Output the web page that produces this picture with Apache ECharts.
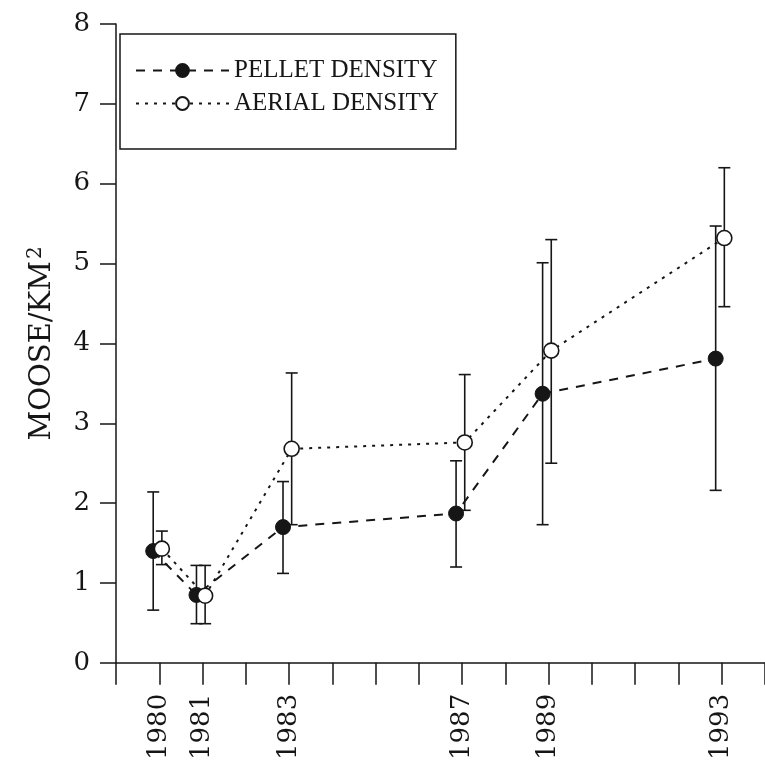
<!DOCTYPE html>
<html>
<head>
<meta charset="utf-8">
<script src="https://cdn.jsdelivr.net/npm/echarts@6/dist/echarts.min.js"></script>
<style>
  html, body { margin: 0; padding: 0; background: #fff; }
  #chart { width: 765px; height: 763px; }
</style>
</head>
<body>
<div id="chart"></div>
<script>
// 年份（x 轴标签）
var years = [1980, 1981, 1983, 1987, 1989, 1993];

// 粪便计数估计
var pellet     = [1.40, 0.85, 1.70, 1.87, 3.37, 3.81];
var pelletLow  = [0.66, 0.49, 1.12, 1.20, 1.73, 2.16];
var pelletHigh = [2.14, 1.22, 2.27, 2.53, 5.01, 5.47];

// 航空调查估计
var aerial     = [1.43, 0.84, 2.68, 2.76, 3.91, 5.32];
var aerialLow  = [1.23, 0.49, 1.73, 1.91, 2.50, 4.46];
var aerialHigh = [1.65, 1.22, 3.63, 3.61, 5.30, 6.20];

var yTicks = [0, 1, 2, 3, 4, 5, 6, 7, 8];

// 两组点左右错开一点
var pelletShift = -0.14;
var aerialShift = 0.06;

var ink = '#161616';
var serif = '"Liberation Serif", "DejaVu Serif", serif';
var wideSerif = '"DejaVu Serif", "Liberation Serif", serif';

function points(vals, shift){
    var out = [];
    for(var i = 0; i < years.length; i++){
        out.push([years[i] + shift, vals[i]]);
    }
    return out;
}

function bars(low, high, shift){
    var out = [];
    for(var i = 0; i < years.length; i++){
        out.push([years[i] + shift, low[i], high[i]]);
    }
    return out;
}

function renderErrorBar(params, api){
    var x = api.value(0);
    var lo = api.coord([x, api.value(1)]);
    var hi = api.coord([x, api.value(2)]);
    var half = 6;
    var style = { stroke: ink, lineWidth: 1.6 };
    return {
        type: 'group',
        children: [
            { type: 'line', shape: { x1: lo[0], y1: lo[1], x2: hi[0], y2: hi[1] }, style: style },
            { type: 'line', shape: { x1: lo[0] - half, y1: lo[1], x2: lo[0] + half, y2: lo[1] }, style: style },
            { type: 'line', shape: { x1: hi[0] - half, y1: hi[1], x2: hi[0] + half, y2: hi[1] }, style: style }
        ]
    };
}

var option = {
    animation: false,
    backgroundColor: '#fff',
    grid: {
        left: 116,
        right: -5,
        top: 24,
        bottom: 98
    },
    legend: {
        orient: 'vertical',
        left: 120,
        top: 34,
        data: ['PELLET DENSITY', 'AERIAL DENSITY'],
        itemWidth: 93,
        itemHeight: 16,
        itemGap: 8,
        padding: [24, 17, 33, 15],
        borderColor: ink,
        borderWidth: 1.5,
        backgroundColor: '#fff',
        textStyle: {
            fontFamily: serif,
            fontSize: 25,
            color: ink
        }
    },
    xAxis: {
        type: 'value',
        min: 1979,
        max: 1994,
        interval: 1,
        splitLine: { show: false },
        axisLine: { lineStyle: { color: ink, width: 1.5 } },
        axisTick: { inside: false, length: 22, lineStyle: { color: ink, width: 1.5 } },
        axisLabel: {
            rotate: 90,
            margin: 31,
            fontFamily: wideSerif,
            fontSize: 26,
            color: ink,
            formatter: function(v){
                return years.indexOf(v) >= 0 ? String(v) : '';
            }
        }
    },
    yAxis: {
        type: 'value',
        min: yTicks[0],
        max: yTicks[yTicks.length - 1],
        interval: 1,
        name: 'MOOSE/KM{sup|2}',
        nameLocation: 'middle',
        nameGap: 58,
        nameTextStyle: {
            fontFamily: wideSerif,
            fontSize: 29,
            color: ink,
            rich: {
                sup: {
                    fontFamily: wideSerif,
                    fontSize: 20,
                    color: ink,
                    verticalAlign: 'top',
                    padding: [0, 0, 12, 2]
                }
            }
        },
        splitLine: { show: false },
        axisLine: { show: true, lineStyle: { color: ink, width: 1.5 } },
        axisTick: { show: true, length: 16, lineStyle: { color: ink, width: 1.5 } },
        axisLabel: {
            margin: 26,
            fontFamily: wideSerif,
            fontSize: 26,
            color: ink
        }
    },
    series: [
        {
            name: 'pellet-err',
            type: 'custom',
            renderItem: renderErrorBar,
            data: bars(pelletLow, pelletHigh, pelletShift),
            z: 2
        },
        {
            name: 'aerial-err',
            type: 'custom',
            renderItem: renderErrorBar,
            data: bars(aerialLow, aerialHigh, aerialShift),
            z: 2
        },
        {
            name: 'PELLET DENSITY',
            type: 'line',
            data: points(pellet, pelletShift),
            symbol: 'circle',
            symbolSize: 15,
            itemStyle: { color: ink, borderColor: ink, borderWidth: 1 },
            lineStyle: { color: ink, width: 2, type: [9, 8] },
            z: 3
        },
        {
            name: 'AERIAL DENSITY',
            type: 'line',
            data: points(aerial, aerialShift),
            symbol: 'circle',
            symbolSize: 15,
            itemStyle: { color: '#fff', borderColor: ink, borderWidth: 1.6 },
            lineStyle: { color: ink, width: 2, type: [3, 6] },
            z: 4
        }
    ]
};

var chart = echarts.init(document.getElementById('chart'));
chart.setOption(option);
</script>
</body>
</html>
